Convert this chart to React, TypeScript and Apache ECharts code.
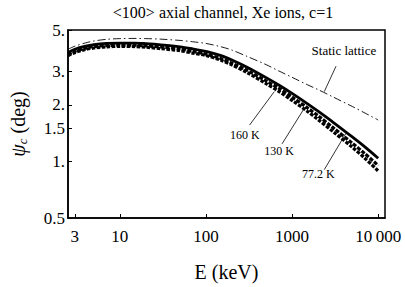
import React, { useEffect, useRef } from 'react';
import * as echarts from 'echarts';

const energies = [2.5, 3, 4, 5, 7, 10, 15, 20, 30, 50, 70, 100, 150, 200, 300, 500, 700, 1000, 1500, 2000, 3000, 5000, 7000, 10000];
const psiStatic = [3.95, 4.1, 4.27, 4.37, 4.46, 4.5, 4.51, 4.5, 4.47, 4.4, 4.33, 4.24, 4.07, 3.91, 3.62, 3.27, 3.03, 2.8, 2.56, 2.41, 2.2, 1.96, 1.81, 1.66];
const psi772 = [3.8, 3.95, 4.1, 4.18, 4.24, 4.26, 4.26, 4.23, 4.17, 4.07, 3.97, 3.85, 3.65, 3.46, 3.17, 2.79, 2.55, 2.3, 2.03, 1.85, 1.615, 1.35, 1.195, 1.04];
const psi130 = [3.7, 3.85, 4.0, 4.08, 4.13, 4.15, 4.15, 4.12, 4.06, 3.96, 3.85, 3.72, 3.52, 3.33, 3.05, 2.68, 2.45, 2.2, 1.93, 1.75, 1.51, 1.25, 1.1, 0.95];
const psi160 = [3.65, 3.79, 3.94, 4.01, 4.07, 4.09, 4.08, 4.05, 3.98, 3.88, 3.77, 3.66, 3.45, 3.26, 2.97, 2.59, 2.36, 2.11, 1.85, 1.67, 1.44, 1.19, 1.04, 0.89];

const xTicks = [3, 10, 100, 1000, 10000];
const xTickLabels = ['3', '10', '100', '1000', '10\u2009000'];
const yTicks = [0.5, 1, 1.5, 2, 3, 5];
const yTickLabels = ['0.5', '1.', '1.5', '2.', '3.', '5.'];

const xRange = [2.5, 12000];
const yRange = [0.5, 5];

// annotations in data coordinates: [E, psi]
const annoTexts = ['Static lattice', '160 K', '130 K', '77.2 K'];
const annoLabelPos = [[4000, 3.87], [282, 1.39], [708, 1.13], [2020, 0.853]];
const annoLineFrom = [[3240, 3.21], [321, 1.56], [765, 1.24], [2366, 0.904]];
const annoLineTo = [[2366, 2.35], [621, 2.35], [1400, 1.93], [4220, 1.41]];

const FONT = 'Liberation Serif';
const lg = Math.log10;

function toData(vals: number[]) {
  return energies.map((e, i) => [lg(e), lg(vals[i])]);
}

function labelFor(ticks: number[], labels: string[]) {
  return (v: number) => {
    const i = ticks.findIndex((t) => Math.abs(lg(t) - v) < 1e-6);
    return i >= 0 ? labels[i] : '';
  };
}

export default function App() {
  const ref = useRef<HTMLDivElement>(null);
  useEffect(() => {
    if (!ref.current) return;
    const chart = echarts.init(ref.current, undefined, { renderer: 'svg' });
    const lineSeries = (name: string, vals: number[], width: number, type: any) => ({
      name,
      type: 'line',
      data: toData(vals),
      smooth: 0.3,
      showSymbol: false,
      symbol: 'none',
      lineStyle: { color: '#000', width, type },
      z: 3,
    });
    chart.setOption({
      animation: false,
      backgroundColor: '#fff',
      textStyle: { fontFamily: FONT, color: '#000' },
      title: {
        text: '<100> axial channel, Xe ions, c=1',
        left: 223,
        top: 4,
        padding: 0,
        textAlign: 'center',
        textStyle: { fontFamily: FONT, fontSize: 16, fontWeight: 'normal', color: '#000' },
      },
      grid: {
        left: 62,
        right: 20,
        top: 30,
        bottom: 59,
        show: true,
        borderColor: '#000',
        borderWidth: 1.5,
        backgroundColor: 'transparent',
      },
      xAxis: {
        type: 'value',
        min: lg(xRange[0]),
        max: lg(xRange[1]),
        name: 'E (keV)',
        nameLocation: 'middle',
        nameGap: 44,
        nameTextStyle: { fontFamily: FONT, fontSize: 20, color: '#000' },
        axisLine: { show: true, onZero: false, lineStyle: { color: '#000', width: 1.5 } },
        axisTick: { show: true, inside: true, length: 4, customValues: xTicks.map(lg), lineStyle: { color: '#000', width: 1 } },
        axisLabel: {
          customValues: xTicks.map(lg),
          formatter: labelFor(xTicks, xTickLabels),
          fontFamily: FONT,
          fontSize: 17,
          color: '#000',
          margin: 10,
        },
        splitLine: { show: false },
      },
      yAxis: {
        type: 'value',
        min: lg(yRange[0]),
        max: lg(yRange[1]),
        name: '{i|ψ}{s|c}{n| (deg)}',
        nameLocation: 'middle',
        nameGap: 39,
        nameTextStyle: {
          fontFamily: FONT,
          fontSize: 20,
          color: '#000',
          rich: {
            i: { fontFamily: FONT, fontSize: 20, fontStyle: 'italic', color: '#000', lineHeight: 22 },
            s: { fontFamily: FONT, fontSize: 13, fontStyle: 'italic', color: '#000', verticalAlign: 'bottom', lineHeight: 13 },
            n: { fontFamily: FONT, fontSize: 20, color: '#000', lineHeight: 22 },
          },
        },
        axisLine: { show: true, onZero: false, lineStyle: { color: '#000', width: 1.5 } },
        axisTick: { show: true, inside: true, length: 4, customValues: yTicks.map(lg), lineStyle: { color: '#000', width: 1 } },
        axisLabel: {
          customValues: yTicks.map(lg),
          formatter: labelFor(yTicks, yTickLabels),
          fontFamily: FONT,
          fontSize: 17,
          color: '#000',
          margin: 3,
        },
        splitLine: { show: false },
      },
      series: [
        lineSeries('Static lattice', psiStatic, 0.9, [8, 3, 1.5, 3]),
        lineSeries('77.2 K', psi772, 2.8, 'solid'),
        lineSeries('130 K', psi130, 3.2, [4, 1.5]),
        lineSeries('160 K', psi160, 3.2, [3.5, 1.5]),
      ],
    });

    const px = (p: number[]) => chart.convertToPixel({ gridIndex: 0 }, [lg(p[0]), lg(p[1])]) as number[];
    const graphics: any[] = [];
    annoTexts.forEach((t, i) => {
      const lp = px(annoLabelPos[i]);
      const a = px(annoLineFrom[i]);
      const b = px(annoLineTo[i]);
      graphics.push({
        type: 'text',
        x: lp[0],
        y: lp[1],
        style: {
          text: t,
          fontFamily: FONT,
          fontSize: i === 0 ? 13 : 12,
          fill: '#000000',
          align: 'center',
          verticalAlign: 'middle',
        },
        z: 10,
      });
      graphics.push({
        type: 'line',
        shape: { x1: a[0], y1: a[1], x2: b[0], y2: b[1] },
        style: { stroke: '#000', lineWidth: 0.8 },
        z: 10,
      });
    });
    chart.setOption({ graphic: graphics });

    return () => chart.dispose();
  }, []);
  return <div ref={ref} style={{ width: 405, height: 287, position: 'absolute', left: 0, top: 0 }} />;
}
